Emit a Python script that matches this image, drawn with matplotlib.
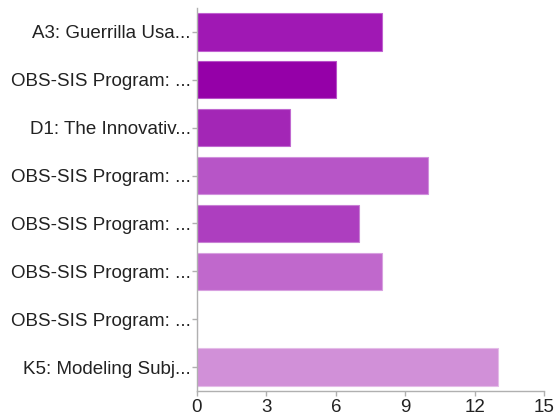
import matplotlib
matplotlib.use("Agg")
import matplotlib.pyplot as plt

# data, top to bottom
labels = [
    "A3: Guerrilla Usa...",
    "OBS-SIS Program: ...",
    "D1: The Innovativ...",
    "OBS-SIS Program: ...",
    "OBS-SIS Program: ...",
    "OBS-SIS Program: ...",
    "OBS-SIS Program: ...",
    "K5: Modeling Subj...",
]
values = [8, 6, 4, 10, 7, 8, 0, 13]
colors = ["#a018b4", "#9500a8", "#a326b6", "#b755c7", "#ad3ebf", "#c068cc", "#c97fd3", "#d190d8"]
edges = ["#c060d0", "#b850c8", "#c068d0", "#d090dc", "#c880d4", "#d8a0e0", "#e0b0e6", "#e4bce8"]
xticks = [0, 3, 6, 9, 12, 15]

plt.rcParams["font.family"] = ["Liberation Sans", "DejaVu Sans"]

fig = plt.figure(figsize=(5.56, 4.2), dpi=100)
ax = fig.add_axes([197 / 556, 1 - 391 / 420, (544 - 197) / 556, (391 - 8) / 420])

pos = list(range(len(values)))
ax.barh(pos, values, height=0.78, color=colors, edgecolor=edges, linewidth=0.8)
ax.set_yticks(pos)
ax.set_yticklabels(labels)
ax.set_ylim(len(values) - 0.5, -0.5)
ax.set_xlim(0, 15)
ax.set_xticks(xticks)

for s in ["top", "right"]:
    ax.spines[s].set_visible(False)
for s in ["left", "bottom"]:
    ax.spines[s].set_color("#b0b0b0")
    ax.spines[s].set_linewidth(1.0)
ax.tick_params(axis="both", colors="#b0b0b0", labelcolor="#222222", labelsize=13.5, length=3.5, width=1.0)
ax.tick_params(axis="y", pad=1)
ax.tick_params(axis="x", pad=2)

fig.savefig("out.png", dpi=100, facecolor="white")
